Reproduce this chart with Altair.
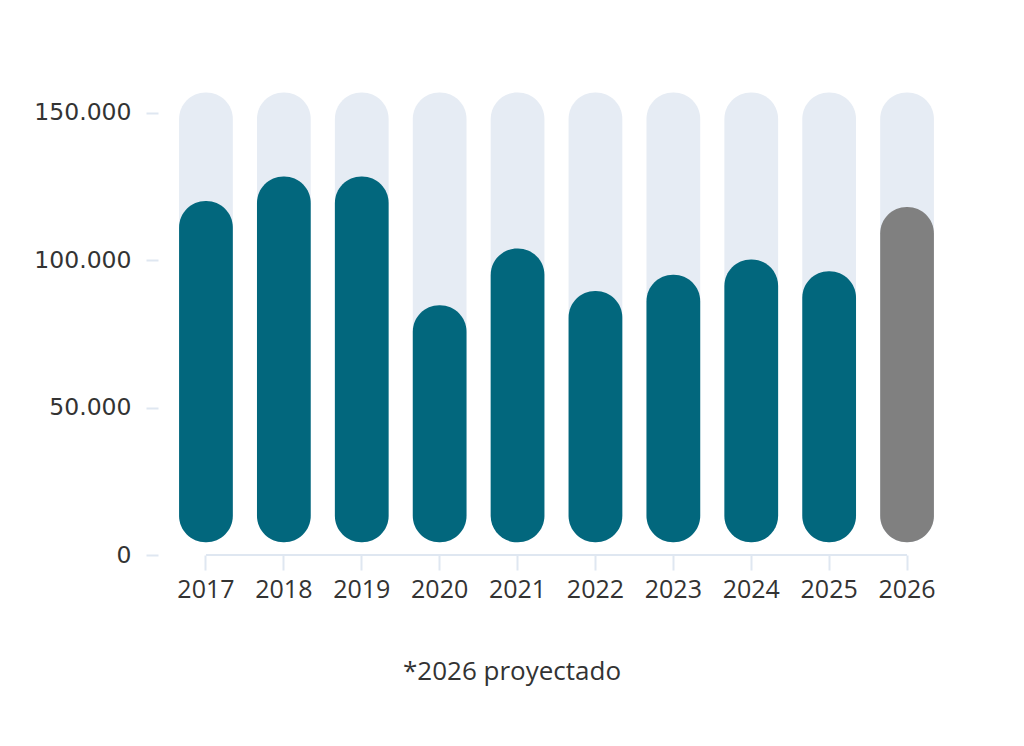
import altair as alt
import pandas as pd

# ---- data ----
years = ["2017", "2018", "2019", "2020", "2021", "2022", "2023", "2024", "2025", "2026"]
values = [120000, 128300, 128300, 84700, 103900, 89500, 95000, 100200, 96200, 118000]
status = ["real"] * 9 + ["proyectado"]
y_ticks = [0, 50000, 100000, 150000]
footnote = "*2026 proyectado"

TRACK_TOP = 156800   # top of the light background pills
BAR_BASE = 4300      # bottom of the pills

TEAL = "#02677d"
GRAY = "#808080"
TRACK = "#e6ecf4"
TICK = "#dfe7f1"
TEXT = "#333333"

df = pd.DataFrame({
    "year": years,
    "value": values,
    "status": status,
    "base": [BAR_BASE] * len(years),
    "track": [TRACK_TOP] * len(years),
})
ends = pd.DataFrame({"start": [years[0]], "end": [years[-1]], "zero": [0]})

x_scale = alt.Scale(domain=years, paddingInner=0.31, paddingOuter=0.155)
y_scale = alt.Scale(domain=[0, 160000], nice=False)

x_axis = alt.Axis(
    title=None, labelAngle=0, domain=False, grid=False,
    tickSize=15, tickColor=TICK, tickWidth=2,
    labelFont="Open Sans", labelFontSize=25, labelColor=TEXT, labelPadding=7,
)
y_axis = alt.Axis(
    title=None, values=y_ticks, domain=False, grid=False,
    tickSize=12, tickColor=TICK, tickWidth=2, offset=9,
    labelFont="DejaVu Sans", labelFontSize=23.5, labelColor=TEXT, labelPadding=15,
    labelExpr="replace(format(datum.value, ','), ',', '.')",
)

track = alt.Chart(df).mark_bar(cornerRadius=26.5, color=TRACK).encode(
    x=alt.X("year:N", scale=x_scale, axis=x_axis),
    y=alt.Y("base:Q", scale=y_scale, axis=y_axis),
    y2="track:Q",
)

bars = alt.Chart(df).mark_bar(cornerRadius=26.5).encode(
    x=alt.X("year:N", scale=x_scale),
    y=alt.Y("base:Q", scale=y_scale),
    y2="value:Q",
    color=alt.Color("status:N",
                    scale=alt.Scale(domain=["real", "proyectado"], range=[TEAL, GRAY]),
                    legend=None),
)

baseline = alt.Chart(ends).mark_rule(color=TICK, strokeWidth=2).encode(
    x=alt.X("start:N", scale=x_scale),
    x2="end:N",
    y=alt.Y("zero:Q", scale=y_scale),
)

chart = alt.layer(track, bars, baseline).properties(
    width=779,
    height=472,
    background="white",
    padding={"left": 159, "top": 75, "right": 70, "bottom": 150},
    autosize=alt.AutoSizeParams(type="none"),
    title=alt.TitleParams(
        footnote, orient="bottom", anchor="middle", frame="group",
        font="Open Sans", fontSize=26, fontWeight="normal", color=TEXT,
        offset=57, dx=-44.5,
    ),
).configure_view(strokeWidth=0, stroke="transparent")

chart.save("out.html", embed_options={"renderer": "svg", "actions": False})
